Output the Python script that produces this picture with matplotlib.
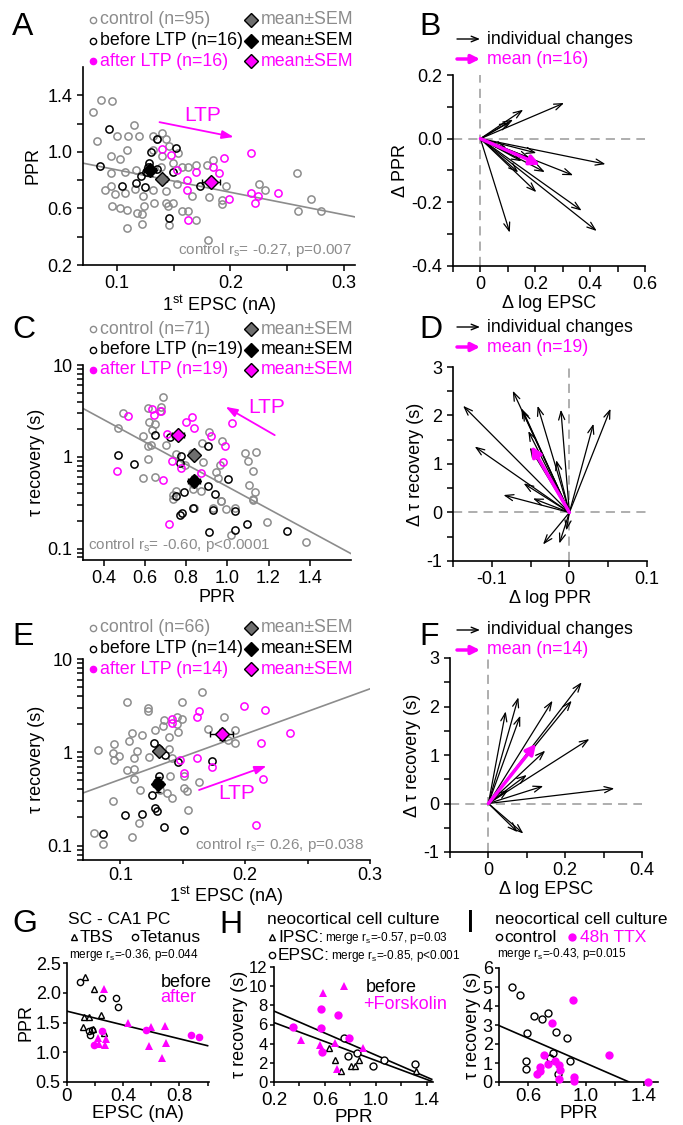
import matplotlib
matplotlib.use('Agg')
import matplotlib.pyplot as plt
from matplotlib.lines import Line2D

plt.rcParams['font.family'] = ['Liberation Sans', 'DejaVu Sans']
plt.rcParams['mathtext.fontset'] = 'custom'
plt.rcParams['mathtext.rm'] = 'Liberation Sans'
plt.rcParams['mathtext.it'] = 'Liberation Sans:italic'
plt.rcParams['axes.linewidth'] = 1.2
for a in ('xtick', 'ytick'):
    plt.rcParams[a + '.major.size'] = 4
    plt.rcParams[a + '.minor.size'] = 4
    plt.rcParams[a + '.major.width'] = 1.1
    plt.rcParams[a + '.minor.width'] = 1.1
    plt.rcParams[a + '.labelsize'] = 13

GRAY = '#8c8c8c'
DGRAY = '#6e6e6e'
MAG = '#ff00ff'
W, H = 683, 1125

# ---------------- data ----------------
# A: PPR vs 1st EPSC
a_ctrl_x = [0.079, 0.086, 0.096, 0.082, 0.100, 0.115, 0.110, 0.119, 0.109, 0.095,
            0.103, 0.095, 0.107, 0.117, 0.132, 0.135, 0.140, 0.143, 0.132, 0.140,
            0.146, 0.154, 0.139, 0.149, 0.157, 0.163, 0.170, 0.179, 0.185, 0.089,
            0.095, 0.098, 0.107, 0.116, 0.123, 0.132, 0.143, 0.153, 0.166, 0.181,
            0.193, 0.196, 0.225, 0.231, 0.259, 0.271, 0.096, 0.103, 0.109, 0.118,
            0.122, 0.124, 0.133, 0.143, 0.145, 0.149, 0.157, 0.163, 0.170, 0.122,
            0.109, 0.146, 0.180, 0.193, 0.260, 0.280]
a_ctrl_y = [1.28, 1.37, 1.36, 1.08, 1.11, 1.19, 1.11, 1.11, 1.01, 0.97,
            0.95, 0.85, 0.86, 0.87, 1.11, 1.09, 1.13, 1.09, 1.01, 0.97,
            1.04, 0.99, 0.89, 0.92, 0.89, 0.89, 0.91, 0.91, 0.94, 0.73,
            0.76, 0.70, 0.71, 0.74, 0.69, 0.73, 0.72, 0.77, 0.69, 0.68,
            0.66, 0.76, 0.77, 0.73, 0.85, 0.67, 0.62, 0.60, 0.59, 0.57,
            0.56, 0.62, 0.64, 0.64, 0.62, 0.64, 0.58, 0.58, 0.52, 0.49,
            0.46, 0.48, 0.38, 0.63, 0.58, 0.58]
a_pre_x = [0.093, 0.085, 0.135, 0.152, 0.130, 0.127, 0.126, 0.149, 0.104, 0.117,
           0.125, 0.173, 0.146, 0.135, 0.128, 0.121]
a_pre_y = [1.16, 0.90, 1.09, 1.03, 1.00, 0.89, 0.86, 0.86, 0.76, 0.78,
           0.75, 0.76, 0.53, 0.88, 0.92, 0.83]
a_post_x = [0.140, 0.148, 0.153, 0.162, 0.162, 0.185, 0.194, 0.218, 0.199, 0.218,
            0.222, 0.224, 0.242, 0.163, 0.190, 0.170]
a_post_y = [1.02, 0.98, 0.87, 0.80, 0.73, 0.89, 0.96, 0.99, 0.67, 0.71,
            0.64, 0.69, 0.71, 0.52, 0.85, 0.86]
a_mean_x = [0.140, 0.129, 0.183]
a_mean_y = [0.81, 0.87, 0.79]
a_sem_x = [0.004, 0.005, 0.008]
a_sem_y = [0.02, 0.04, 0.025]
a_fit_x = [0.07, 0.31]
a_fit_y = [0.92, 0.54]

# B: individual changes (d log EPSC, d PPR)
b_dx = [0.156, 0.305, 0.119, 0.107, 0.204, 0.456, 0.235, 0.338, 0.204, 0.369,
        0.424, 0.107, 0.138, 0.095, 0.150, 0.180]
b_dy = [0.091, 0.112, 0.060, 0.052, -0.045, -0.080, -0.105, -0.115, -0.168, -0.226,
        -0.290, -0.295, -0.106, -0.029, -0.071, -0.061]
b_mean = [0.217, -0.082]

# C: tau recovery vs PPR
c_ctrl_x = [0.688, 0.494, 0.471, 0.615, 0.677, 0.672, 0.647, 0.618, 0.636, 0.591,
            0.615, 0.631, 0.704, 0.753, 0.829, 0.879, 0.911, 0.976, 0.882, 0.615,
            0.591, 0.647, 0.793, 0.947, 0.964, 0.955, 1.084, 1.141, 1.100, 1.125,
            1.105, 1.133, 1.125, 0.834, 0.874, 0.834, 0.737, 0.753, 0.971, 0.737,
            0.971, 0.995, 1.019, 1.194, 1.384, 1.127, 0.839, 0.930, 1.036]
c_ctrl_y = [4.45, 3.02, 2.07, 3.42, 3.51, 3.15, 2.26, 2.40, 1.97, 1.67,
            1.32, 1.35, 1.35, 1.08, 1.09, 1.41, 1.87, 1.47, 0.88, 0.94,
            0.59, 0.60, 0.81, 0.68, 0.81, 0.58, 1.10, 1.14, 0.91, 0.70,
            0.49, 0.41, 0.345, 0.45, 0.42, 0.51, 0.38, 0.42, 0.33, 0.35,
            0.33, 0.27, 0.139, 0.195, 0.119, 0.34, 0.28, 0.275, 0.275]
c_pre_x = [0.647, 0.720, 0.470, 0.546, 0.777, 0.769, 0.904, 0.906, 1.005, 0.753,
           0.790, 0.939, 0.769, 0.782, 0.835, 0.930, 1.035, 0.910, 1.035, 1.096, 1.290]
c_pre_y = [1.72, 1.66, 1.05, 0.84, 1.01, 0.86, 1.32, 0.48, 0.575, 0.37,
           0.41, 0.39, 0.23, 0.244, 0.276, 0.265, 0.258, 0.151, 0.161, 0.183, 0.155]
c_post_x = [0.518, 0.636, 0.643, 0.676, 0.830, 0.801, 0.837, 0.706, 0.920, 0.989,
            1.025, 0.733, 0.774, 0.979, 0.463, 0.688, 0.874, 0.718]
c_post_y = [2.78, 3.34, 2.83, 3.15, 2.74, 2.40, 2.08, 1.77, 1.67, 1.30,
            2.34, 0.91, 0.76, 0.88, 0.70, 0.56, 0.66, 0.187]
c_mean_x = [0.838, 0.838, 0.761]
c_mean_y = [1.04, 0.55, 1.72]
c_sem_x = [0.015, 0.03, 0.03]
c_sem_y = [0.06, 0.07, 0.15]
c_fit_x = [0.3, 1.6]
c_fit_y = [3.36, 0.088]

# D: individual changes (d log PPR, d tau)
d_dx = [-0.137, -0.073, -0.062, -0.041, -0.011, 0.031, 0.053, -0.053, -0.051, -0.122,
        -0.017, -0.059, -0.085, -0.047, -0.034, -0.013, -0.004, -0.060]
d_dy = [2.20, 2.51, 2.15, 2.20, 2.12, 1.83, 2.14, 1.68, 1.34, 1.36,
        1.08, 0.60, 0.36, 0.29, -0.66, -0.64, -0.37, 2.10]
d_mean = [-0.049, 1.37]

# E: tau recovery vs 1st EPSC
e_ctrl_x = [0.165, 0.105, 0.149, 0.122, 0.122, 0.145, 0.149, 0.135, 0.145, 0.146,
            0.134, 0.128, 0.109, 0.117, 0.139, 0.107, 0.095, 0.082, 0.094, 0.099,
            0.095, 0.113, 0.111, 0.123, 0.139, 0.141, 0.105, 0.111, 0.111, 0.140,
            0.151, 0.151, 0.153, 0.163, 0.170, 0.183, 0.192, 0.192, 0.186, 0.116,
            0.132, 0.137, 0.141, 0.094, 0.154, 0.115, 0.079, 0.086, 0.109]
e_ctrl_y = [4.42, 3.42, 3.42, 2.97, 2.74, 2.38, 2.26, 2.23, 2.00, 1.67,
            1.89, 1.74, 1.60, 1.54, 1.45, 1.33, 1.23, 1.06, 0.99, 0.91,
            0.83, 1.04, 0.86, 0.88, 1.08, 0.86, 0.64, 0.66, 0.52, 0.56,
            0.55, 0.41, 0.38, 0.48, 1.77, 2.36, 1.74, 1.27, 1.36, 0.39,
            0.39, 0.37, 0.32, 0.30, 0.24, 0.175, 0.138, 0.103, 0.124]
e_pre_x = [0.127, 0.131, 0.136, 0.146, 0.173, 0.131, 0.129, 0.125, 0.128, 0.129,
           0.117, 0.104, 0.135, 0.151, 0.086]
e_pre_y = [1.25, 1.08, 0.94, 0.79, 0.81, 0.55, 0.48, 0.35, 0.25, 0.236,
           0.22, 0.21, 0.16, 0.146, 0.132]
e_post_x = [0.199, 0.216, 0.163, 0.161, 0.141, 0.141, 0.236, 0.213, 0.161, 0.173,
            0.151, 0.214, 0.209, 0.148]
e_post_y = [3.10, 2.85, 2.74, 2.38, 2.26, 2.05, 1.60, 1.25, 0.86, 0.70,
            0.60, 0.52, 0.168, 0.83]
e_mean_x = [0.131, 0.130, 0.181]
e_mean_y = [1.04, 0.457, 1.56]
e_sem_x = [0.003, 0.004, 0.009]
e_sem_y = [0.08, 0.08, 0.2]
e_fit_x = [0.07, 0.30]
e_fit_y = [0.366, 4.79]

# F: individual changes (d log EPSC, d tau)
f_dx = [0.045, 0.078, 0.083, 0.167, 0.243, 0.217, 0.263, 0.148, 0.100, 0.143,
        0.328, 0.076, 0.091, 0.052]
f_dy = [1.90, 2.19, 1.81, 2.12, 2.50, 2.12, 1.33, 1.09, 0.59, 0.36,
        0.31, -0.59, -0.62, 0.28]
f_mean = [0.124, 1.23]

# G: SC - CA1 PC
g_tet_pre_x = [0.089, 0.247, 0.348, 0.365, 0.153, 0.165, 0.176]
g_tet_pre_y = [2.18, 1.92, 1.92, 1.76, 1.36, 1.29, 1.37]
g_tbs_pre_x = [0.129, 0.195, 0.242, 0.118, 0.153, 0.113, 0.184, 0.266]
g_tbs_pre_y = [2.26, 2.06, 1.62, 1.60, 1.60, 1.43, 1.39, 1.33]
g_tbs_post_x = [0.264, 0.435, 0.600, 0.694, 0.584, 0.706, 0.678, 0.219, 0.278, 0.271, 0.231]
g_tbs_post_y = [2.06, 1.50, 1.42, 1.44, 1.11, 1.16, 0.90, 1.24, 1.23, 1.13, 1.14]
g_tet_post_x = [0.195, 0.252, 0.560, 0.882, 0.941]
g_tet_post_y = [1.12, 1.36, 1.37, 1.29, 1.26]
g_fit_x = [0.0, 1.0]
g_fit_y = [1.69, 1.11]

# H: neocortical culture, forskolin
h_epsc_pre_x = [0.753, 0.779, 0.850, 0.982, 1.068, 1.305]
h_epsc_pre_y = [4.55, 2.76, 3.0, 1.69, 2.34, 1.86]
h_ipsc_pre_x = [0.629, 0.682, 0.726, 0.805, 0.839, 0.866, 1.318]
h_ipsc_pre_y = [3.52, 2.34, 1.17, 1.62, 1.62, 2.34, 1.17]
h_epsc_fsk_x = [0.568, 0.700, 0.353, 0.568, 0.792, 0.576]
h_epsc_fsk_y = [7.66, 6.97, 5.69, 5.62, 4.59, 3.10]
h_ipsc_fsk_x = [0.582, 0.747, 0.416, 0.563, 0.679, 0.695, 0.897]
h_ipsc_fsk_y = [9.24, 10.0, 4.38, 3.86, 4.07, 1.38, 3.52]
h_fit1_x = [0.2, 1.44]
h_fit1_y = [7.4, 0.28]
h_fit2_x = [0.2, 1.44]
h_fit2_y = [6.2, 0.07]

# I: neocortical culture, TTX
i_ctrl_x = [0.492, 0.548, 0.641, 0.697, 0.742, 0.796, 0.870, 0.596, 0.590, 0.590,
            0.776, 0.753, 0.893, 0.810]
i_ctrl_y = [4.99, 4.56, 3.48, 3.30, 3.65, 2.61, 2.30, 2.57, 1.13, 0.70,
            1.51, 1.25, 1.10, 0.43]
i_ttx_x = [0.911, 0.769, 0.713, 1.159, 0.787, 0.740, 0.814, 0.683, 0.683, 0.661,
           0.825, 0.922, 0.922, 0.814, 1.434]
i_ttx_y = [4.30, 3.13, 1.44, 1.43, 1.13, 0.96, 0.90, 0.78, 0.56, 0.43,
           0.64, 0.26, 0.03, 0.14, 0.0]
i_fit_x = [0.4, 1.3]
i_fit_y = [2.97, 0.0]

# ---------------- helpers ----------------
fig = plt.figure(figsize=(W / 100, H / 100), dpi=100)


def px_axes(l, t, r, b):
    ax = fig.add_axes([l / W, 1 - b / H, (r - l) / W, (b - t) / H])
    ax.spines['top'].set_visible(False)
    ax.spines['right'].set_visible(False)
    ax.tick_params(which='both', direction='out')
    return ax


def ftext(x, y, s, **kw):
    kw.setdefault('va', 'center')
    kw.setdefault('ha', 'left')
    fig.text(x / W, 1 - y / H, s, **kw)


def fmarker(x, y, **kw):
    fig.add_artist(Line2D([x / W], [1 - y / H], transform=fig.transFigure, ls='none', **kw))


def farrow(x1, y1, x2, y2, style, lw, color):
    fig.add_artist(matplotlib.patches.FancyArrowPatch(
        (x1 / W, 1 - y1 / H), (x2 / W, 1 - y2 / H), transform=fig.transFigure,
        arrowstyle=style, lw=lw, color=color, mutation_scale=10, shrinkA=0, shrinkB=0))


def open_pts(ax, x, y, c, ms=5.2):
    ax.plot(x, y, 'o', mfc='none', mec=c, ms=ms, mew=1.1, zorder=3)


def means(ax, mx, my, sx, sy):
    fills = [DGRAY, 'k', MAG]
    for i in range(3):
        ax.errorbar(mx[i], my[i], xerr=sx[i], yerr=sy[i], fmt='D', mfc=fills[i], mec='k',
                    ms=7, mew=1, ecolor='k', elinewidth=1, capsize=2.5, zorder=6)


def legend3(y0, n1, n2, n3):
    rows = [y0, y0 + 20.5, y0 + 41]
    fmarker(93, rows[0], marker='o', mfc='none', mec=GRAY, ms=4.5, mew=1)
    fmarker(93, rows[1], marker='o', mfc='none', mec='k', ms=4.5, mew=1)
    fmarker(93, rows[2], marker='o', mfc=MAG, mec=MAG, ms=4.5, mew=1)
    ftext(100, rows[0], 'control (n=%d)' % n1, color=GRAY, fontsize=12.8)
    ftext(100, rows[1], 'before LTP (n=%d)' % n2, color='k', fontsize=12.8)
    ftext(100, rows[2], 'after LTP (n=%d)' % n3, color=MAG, fontsize=12.8)
    for r, fc, tc in zip(rows, [DGRAY, 'k', MAG], [GRAY, 'k', MAG]):
        fmarker(251, r, marker='D', mfc=fc, mec='k', ms=7, mew=1)
        ftext(261, r, 'mean\u00b1SEM', color=tc, fontsize=12.8)


def vec_legend(y0, n):
    farrow(457, y0, 480, y0, '->,head_length=0.5,head_width=0.2', 1.0, 'k')
    ftext(487, y0, 'individual changes', fontsize=12.8)
    farrow(457, y0 + 20, 480, y0 + 20, '-|>,head_length=0.5,head_width=0.25', 2.5, MAG)
    ftext(487, y0 + 20, 'mean (n=%d)' % n, color=MAG, fontsize=12.8)


def vectors(ax, dx, dy, mean):
    ax.axhline(0, color='#999999', ls=(0, (6, 4)), lw=1.1, zorder=1)
    ax.axvline(0, color='#999999', ls=(0, (6, 4)), lw=1.1, zorder=1)
    for x, y in zip(dx, dy):
        ax.annotate('', xy=(x, y), xytext=(0, 0),
                    arrowprops=dict(arrowstyle='->,head_length=0.6,head_width=0.22',
                                    lw=0.9, color='k', shrinkA=0, shrinkB=0))
    ax.annotate('', xy=(mean[0], mean[1]), xytext=(0, 0),
                arrowprops=dict(arrowstyle='-|>,head_length=0.6,head_width=0.3',
                                lw=2.5, color=MAG, shrinkA=0, shrinkB=0))


def ticks(ax, axis, major, labels, minor=None, size=13):
    a = ax.xaxis if axis == 'x' else ax.yaxis
    a.set_ticks(major)
    a.set_ticklabels(labels)
    if minor is not None:
        a.set_ticks(minor, minor=True)
    ax.tick_params(axis=axis, labelsize=size)


def panel_letter(x, y, s):
    ftext(x, y, s, fontsize=23, va='center')


LOGY = ([0.1, 1, 10], ['0.1', '1', '10'])

# ---------------- A ----------------
ax = px_axes(83, 67, 355, 265)
open_pts(ax, a_ctrl_x, a_ctrl_y, GRAY)
open_pts(ax, a_pre_x, a_pre_y, 'k')
open_pts(ax, a_post_x, a_post_y, MAG)
ax.plot(a_fit_x, a_fit_y, color=GRAY, lw=1.2, zorder=2)
means(ax, a_mean_x, a_mean_y, a_sem_x, a_sem_y)
ax.annotate('', xy=(0.203, 1.105), xytext=(0.1375, 1.21),
            arrowprops=dict(arrowstyle='-|>,head_length=0.7,head_width=0.25', lw=1.3,
                            color=MAG, shrinkA=0, shrinkB=0))
ax.text(0.176, 1.26, 'LTP', color=MAG, fontsize=15, ha='center', va='center')
ax.text(0.99, 0.03, 'control r$_\\mathrm{s}$= -0.27, p=0.007', color=GRAY, fontsize=11,
        transform=ax.transAxes, ha='right', va='bottom')
ax.set_xlim(0.07, 0.31)
ax.set_ylim(0.2, 1.6)
ticks(ax, 'x', [0.1, 0.2, 0.3], ['0.1', '0.2', '0.3'], [0.15, 0.25])
ticks(ax, 'y', [0.2, 0.6, 1.0, 1.4], ['0.2', '0.6', '1.0', '1.4'], [0.4, 0.8, 1.2])
ax.set_xlabel('1$^{\\mathrm{st}}$ EPSC (nA)', fontsize=13, labelpad=1)
ax.set_ylabel('PPR', fontsize=13, labelpad=4)
legend3(20, 95, 16, 16)
panel_letter(12, 27, 'A')

# ---------------- B ----------------
ax = px_axes(453, 75, 645, 266)
vectors(ax, b_dx, b_dy, b_mean)
ax.set_xlim(-0.1, 0.6)
ax.set_ylim(-0.4, 0.2)
ticks(ax, 'x', [0, 0.2, 0.4, 0.6], ['0', '0.2', '0.4', '0.6'], [-0.1, 0.1, 0.3, 0.5])
ticks(ax, 'y', [-0.4, -0.2, 0, 0.2], ['-0.4', '-0.2', '0.0', '0.2'], [-0.3, -0.1, 0.1])
ax.set_xlabel('\u0394 log EPSC', fontsize=13, labelpad=1)
ax.set_ylabel('\u0394 PPR', fontsize=13, labelpad=2)
vec_legend(39, 16)
panel_letter(419, 27, 'B')

# ---------------- C ----------------
ax = px_axes(83, 365, 351, 560)
ax.set_yscale('log')
open_pts(ax, c_ctrl_x, c_ctrl_y, GRAY)
open_pts(ax, c_pre_x, c_pre_y, 'k')
open_pts(ax, c_post_x, c_post_y, MAG)
ax.plot(c_fit_x, c_fit_y, color=GRAY, lw=1.2, zorder=2)
means(ax, c_mean_x, c_mean_y, c_sem_x, c_sem_y)
ax.annotate('', xy=(0.992, 3.5), xytext=(1.23, 1.72),
            arrowprops=dict(arrowstyle='-|>,head_length=0.7,head_width=0.25', lw=1.3,
                            color=MAG, shrinkA=0, shrinkB=0))
ax.text(1.19, 3.42, 'LTP', color=MAG, fontsize=15, ha='center', va='center')
ax.text(0.02, 0.03, 'control r$_\\mathrm{s}$= -0.60, p<0.0001', color=GRAY, fontsize=11,
        transform=ax.transAxes, ha='left', va='bottom')
ax.set_xlim(0.3, 1.6)
ax.set_ylim(0.075, 10)
ticks(ax, 'x', [0.4, 0.6, 0.8, 1.0, 1.2, 1.4], ['0.4', '0.6', '0.8', '1.0', '1.2', '1.4'])
ticks(ax, 'y', *LOGY)
ax.set_xlabel('PPR', fontsize=13, labelpad=1)
ax.set_ylabel('\u03c4 recovery (s)', fontsize=13, labelpad=2)
legend3(329, 71, 19, 19)
panel_letter(12, 330, 'C')

# ---------------- D ----------------
ax = px_axes(453, 367, 647, 561)
vectors(ax, d_dx, d_dy, d_mean)
ax.set_xlim(-0.15, 0.1)
ax.set_ylim(-1, 3)
ticks(ax, 'x', [-0.1, 0, 0.1], ['-0.1', '0', '0.1'], [-0.15, -0.05, 0.05])
ticks(ax, 'y', [-1, 0, 1, 2, 3], ['-1', '0', '1', '2', '3'], [-0.5, 0.5, 1.5, 2.5])
ax.set_xlabel('\u0394 log PPR', fontsize=13, labelpad=1)
ax.set_ylabel('\u0394 \u03c4 recovery (s)', fontsize=13, labelpad=2)
vec_legend(327, 19)
panel_letter(419, 330, 'D')

# ---------------- E ----------------
ax = px_axes(83, 659, 370, 860)
ax.set_yscale('log')
ax.tick_params(axis='x', which='both', length=3, pad=2)
open_pts(ax, e_ctrl_x, e_ctrl_y, GRAY)
open_pts(ax, e_pre_x, e_pre_y, 'k')
open_pts(ax, e_post_x, e_post_y, MAG)
ax.plot(e_fit_x, e_fit_y, color=GRAY, lw=1.2, zorder=2)
means(ax, e_mean_x, e_mean_y, e_sem_x, e_sem_y)
ax.annotate('', xy=(0.217, 0.713), xytext=(0.163, 0.394),
            arrowprops=dict(arrowstyle='-|>,head_length=0.7,head_width=0.25', lw=1.3,
                            color=MAG, shrinkA=0, shrinkB=0))
ax.text(0.193, 0.36, 'LTP', color=MAG, fontsize=15, ha='center', va='center')
ax.text(0.98, 0.03, 'control r$_\\mathrm{s}$= 0.26, p=0.038', color=GRAY, fontsize=11,
        transform=ax.transAxes, ha='right', va='bottom')
ax.set_xlim(0.07, 0.3)
ax.set_ylim(0.07, 10)
ticks(ax, 'x', [0.1, 0.2, 0.3], ['0.1', '0.2', '0.3'], [0.15, 0.25])
ticks(ax, 'y', *LOGY)
ax.set_xlabel('1$^{\\mathrm{st}}$ EPSC (nA)', fontsize=13, labelpad=0)
ax.set_ylabel('\u03c4 recovery (s)', fontsize=13, labelpad=2)
legend3(628, 66, 14, 14)
panel_letter(12, 637, 'E')

# ---------------- F ----------------
ax = px_axes(450, 658, 642, 852)
vectors(ax, f_dx, f_dy, f_mean)
ax.set_xlim(-0.1, 0.4)
ax.set_ylim(-1, 3)
ticks(ax, 'x', [0, 0.2, 0.4], ['0', '0.2', '0.4'], [-0.1, 0.1, 0.3])
ticks(ax, 'y', [-1, 0, 1, 2, 3], ['-1', '0', '1', '2', '3'], [-0.5, 0.5, 1.5, 2.5])
ax.set_xlabel('\u0394 log EPSC', fontsize=13, labelpad=1)
ax.set_ylabel('\u0394 \u03c4 recovery (s)', fontsize=13, labelpad=2)
vec_legend(630, 14)
panel_letter(419, 637, 'F')


def small_axes(ax):
    ax.tick_params(which='both', length=3, pad=1.5)


# ---------------- G ----------------
ax = px_axes(67, 963, 209, 1082)
small_axes(ax)
ax.plot(g_fit_x, g_fit_y, color='k', lw=1.2, zorder=2)
ax.plot(g_tet_pre_x, g_tet_pre_y, 'o', mfc='none', mec='k', ms=4.5, mew=1)
ax.plot(g_tbs_pre_x, g_tbs_pre_y, '^', mfc='none', mec='k', ms=4.5, mew=1)
ax.plot(g_tbs_post_x, g_tbs_post_y, '^', mfc=MAG, mec=MAG, ms=5.5, mew=0)
ax.plot(g_tet_post_x, g_tet_post_y, 'o', mfc=MAG, mec=MAG, ms=5.5, mew=0)
ax.set_xlim(0, 1.01)
ax.set_ylim(0.5, 2.5)
ticks(ax, 'x', [0, 0.4, 0.8], ['0', '0.4', '0.8'], [0.2, 0.6, 1.0], size=13.5)
ticks(ax, 'y', [0.5, 1.0, 1.5, 2.0, 2.5], ['0.5', '1.0', '1.5', '2.0', '2.5'])
ax.set_xlabel('EPSC (nA)', fontsize=13.5, labelpad=0)
ax.set_ylabel('PPR', fontsize=13, labelpad=1)
ax.text(0.66, 0.84, 'before', fontsize=13, transform=ax.transAxes, va='center')
ax.text(0.66, 0.71, 'after', fontsize=13, color=MAG, transform=ax.transAxes, va='center')
panel_letter(12, 924, 'G')
ftext(68, 920, 'SC - CA1 PC', fontsize=12.5)
fmarker(74, 937, marker='^', mfc='none', mec='k', ms=4.5, mew=1)
ftext(80, 937, 'TBS', fontsize=12.5)
fmarker(135, 937, marker='o', mfc='none', mec='k', ms=4.5, mew=1)
ftext(140, 937, 'Tetanus', fontsize=12.5)
ftext(69, 955, 'merge r$_\\mathrm{s}$=-0.36, p=0.044', fontsize=8.5)

# ---------------- H ----------------
ax = px_axes(274, 967, 433, 1082)
small_axes(ax)
ax.tick_params(axis='x', which='both', pad=4.5)
ax.plot(h_fit1_x, h_fit1_y, color='k', lw=1.2, zorder=2)
ax.plot(h_fit2_x, h_fit2_y, color='k', lw=1.2, zorder=2)
ax.plot(h_epsc_pre_x, h_epsc_pre_y, 'o', mfc='white', mec='k', ms=5, mew=1, zorder=3)
ax.plot(h_ipsc_pre_x, h_ipsc_pre_y, '^', mfc='white', mec='k', ms=5, mew=1, zorder=3)
ax.plot(h_epsc_fsk_x, h_epsc_fsk_y, 'o', mfc=MAG, mec=MAG, ms=6, mew=0, zorder=3)
ax.plot(h_ipsc_fsk_x, h_ipsc_fsk_y, '^', mfc=MAG, mec=MAG, ms=6, mew=0, zorder=3)
ax.set_xlim(0.2, 1.45)
ax.set_ylim(0, 12)
ticks(ax, 'x', [0.2, 0.6, 1.0, 1.4], ['0.2', '0.6', '1.0', '1.4'], [0.4, 0.8, 1.2], size=13.5)
ticks(ax, 'y', [0, 2, 4, 6, 8, 10, 12], ['0', '2', '4', '6', '8', '10', '12'], size=12)
ax.set_xlabel('PPR', fontsize=13.5, labelpad=0)
ax.set_ylabel('\u03c4 recovery (s)', fontsize=13, labelpad=1)
ax.text(0.58, 0.82, 'before', fontsize=13, transform=ax.transAxes, va='center')
ax.text(0.56, 0.67, '+Forskolin', fontsize=13, color=MAG, transform=ax.transAxes, va='center')
panel_letter(219, 925, 'H')
ftext(267, 920, 'neocortical cell culture', fontsize=12.5)
fmarker(272, 937, marker='^', mfc='none', mec='k', ms=4.5, mew=1)
ftext(278, 937, 'IPSC:', fontsize=12.5)
ftext(325, 938, 'merge r$_\\mathrm{s}$=-0.57, p=0.03', fontsize=8.5)
fmarker(272, 955, marker='o', mfc='none', mec='k', ms=4.5, mew=1)
ftext(278, 955, 'EPSC:', fontsize=12.5)
ftext(331, 956, 'merge r$_\\mathrm{s}$=-0.85, p<0.001', fontsize=8.5)

# ---------------- I ----------------
ax = px_axes(499, 968, 658, 1082)
small_axes(ax)
ax.plot(i_fit_x, i_fit_y, color='k', lw=1.2, zorder=2)
ax.plot(i_ctrl_x, i_ctrl_y, 'o', mfc='none', mec='k', ms=5, mew=1, zorder=3)
ax.plot(i_ttx_x, i_ttx_y, 'o', mfc=MAG, mec=MAG, ms=6, mew=0, zorder=3, clip_on=False)
ax.set_xlim(0.4, 1.5)
ax.set_ylim(0, 6)
ticks(ax, 'x', [0.6, 1.0, 1.4], ['0.6', '1.0', '1.4'], [0.4, 0.8, 1.2], size=13.5)
ticks(ax, 'y', [0, 1, 2, 3, 4, 5, 6], ['0', '1', '2', '3', '4', '5', '6'])
ax.set_xlabel('PPR', fontsize=13.5, labelpad=0)
ax.set_ylabel('\u03c4 recovery (s)', fontsize=13, labelpad=1)
panel_letter(466, 924, 'I')
ftext(495, 920, 'neocortical cell culture', fontsize=12.5)
fmarker(499, 937, marker='o', mfc='none', mec='k', ms=4.5, mew=1)
ftext(504, 937, 'control', fontsize=12.5)
fmarker(572, 937, marker='o', mfc=MAG, mec=MAG, ms=6, mew=0)
ftext(580, 937, '48h TTX', fontsize=12.5, color=MAG)
ftext(497, 954, 'merge r$_\\mathrm{s}$=-0.43, p=0.015', fontsize=8.5)

fig.savefig('out.png', dpi=100)
